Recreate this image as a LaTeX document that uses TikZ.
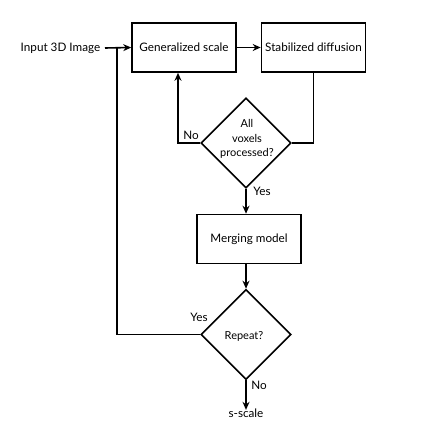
\documentclass[tikz,border=0pt]{standalone}
\usepackage{fontspec}
\setmainfont{Lato}
\usetikzlibrary{shapes.geometric,arrows.meta}
\begin{document}
\begin{tikzpicture}[x=1pt,y=-1pt,
  line width=1.6pt,
  box/.style={draw,rectangle,minimum width=104pt,minimum height=49pt,inner sep=0pt,font=\fontsize{11.7}{14}\selectfont},
  dec/.style={draw,diamond,minimum width=90pt,minimum height=90pt,inner sep=0pt},
  dectext/.style={align=center,font=\fontsize{11}{14.5}\selectfont,inner sep=0pt},
  lab/.style={font=\fontsize{11.7}{14}\selectfont,inner sep=0pt},
  arr/.style={-{Stealth[length=8pt,width=7pt]}}]
\useasboundingbox (0,0) rectangle (436,436);
\node[lab,anchor=east] (in) at (101,48) {Input 3D Image};
\node[box] (gs) at (184,47.5) {Generalized scale};
\node[box] (sd) at (313.5,47.5) {Stabilized diffusion};
\node[dec] (d1) at (246,143) {};
\node[dectext] (t1) at (247,139) {All\\voxels\\processed?};
\node[box] (mm) at (249,239) {Merging model};
\node[dec] (d2) at (246,334.5) {};
\node[dectext] (t2) at (244,336) {Repeat?};
\node[lab] (out) at (246,413) {s-scale};
\node[lab] (no1) at (191,135) {No};
\node[lab] (yes1) at (262,191) {Yes};
\node[lab] (yes2) at (199,317) {Yes};
\node[lab] (no2) at (259,385) {No};
\coordinate (j) at (117,48);
\draw[arr] (in.east) ++(4,0) -- (gs.west);
\draw[arr] (gs) -- (sd);
\draw (sd.south) |- (d1.east);
\draw[arr] (d1.west) -| (gs.south -| 178,0);
\draw[arr] (d1.south) -- (d1.south |- mm.north);
\draw[arr] (d1.south |- mm.south) -- (d2.north);
\draw (d2.west) -| (j);
\draw[arr] (d2.south) -- ([yshift=-2pt]out.north);
\end{tikzpicture}
\end{document}
